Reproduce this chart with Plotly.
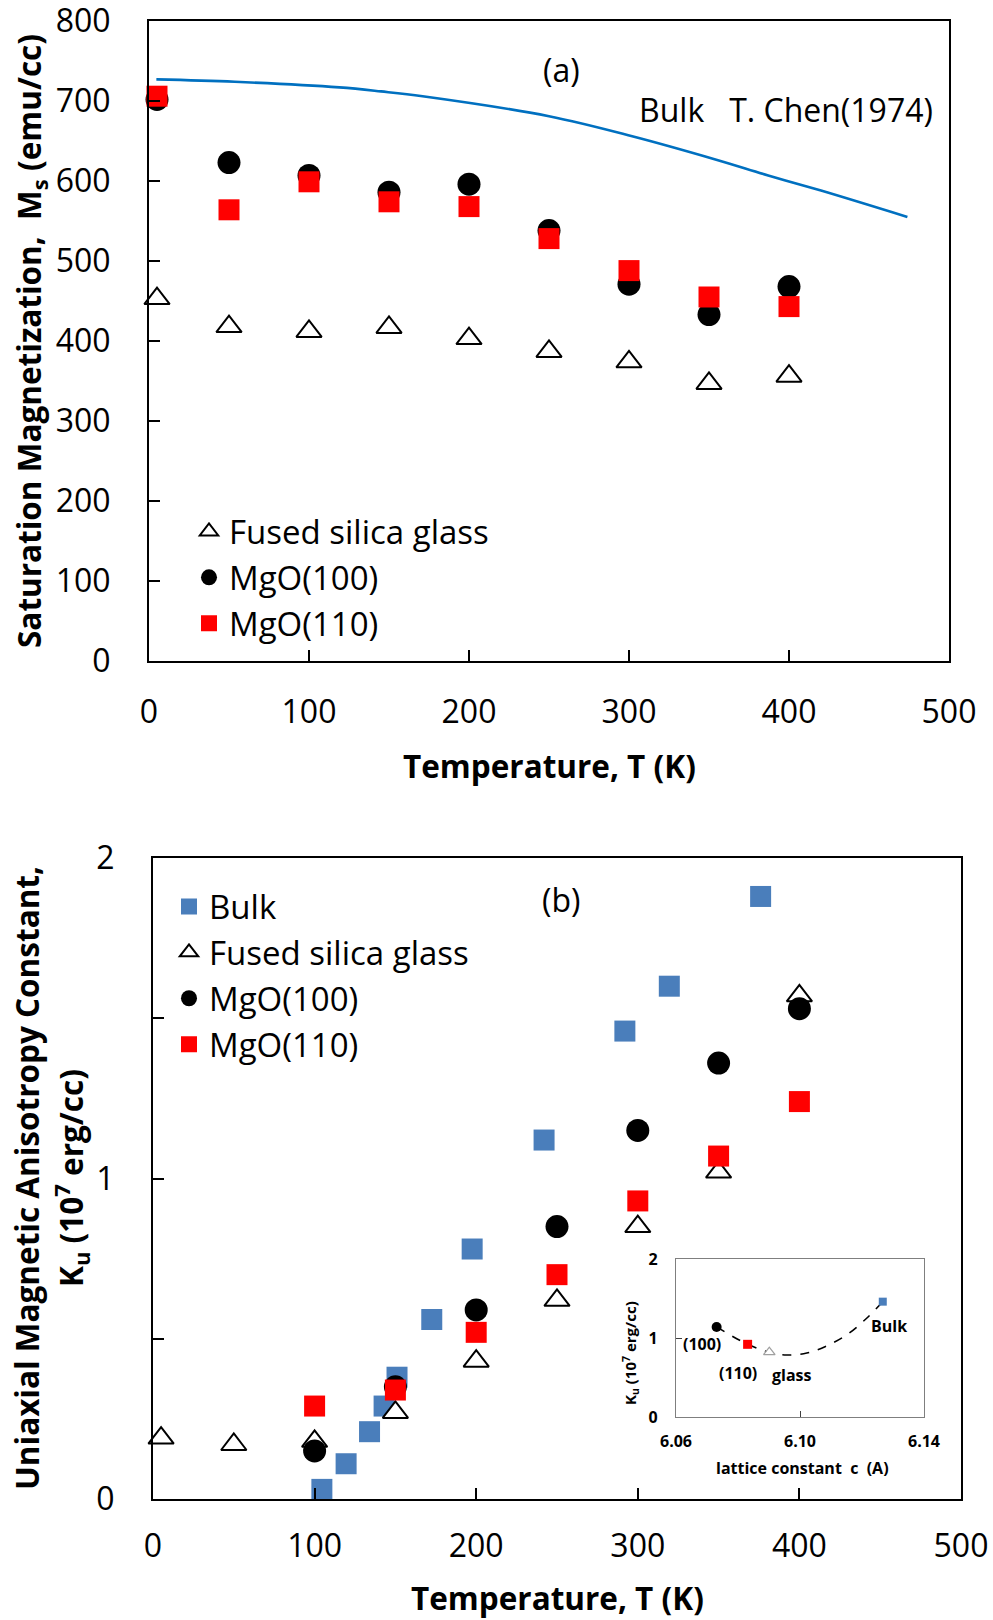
import plotly.graph_objects as go

W, H = 993, 1620

# ---------------- Panel (a): saturation magnetization ----------------
T_a = [5, 50, 100, 150, 200, 250, 300, 350, 400]
Ms_glass = [453, 418, 412, 417, 403, 387, 374, 347, 356]
Ms_mgo100 = [702, 623, 607, 586, 596, 538, 471, 433, 468]
Ms_mgo110 = [706, 564, 599, 574, 568, 528, 488, 455, 443]
T_bulk_line = [4.6, 53.6, 119, 145, 171, 250, 302, 354, 387, 420, 474]
Ms_bulk_line = [727, 724, 717, 712, 706, 681, 656, 627, 607, 588, 555]

# ---------------- Panel (b): uniaxial anisotropy ----------------
T_bulk = [104.5, 119.5, 134, 143, 151, 172.5, 197.5, 242, 292, 319.5, 376]
Ku_bulk = [0.03, 0.11, 0.21, 0.29, 0.38, 0.56, 0.78, 1.12, 1.46, 1.60, 1.88]
T_glass_b = [5, 50, 100, 150, 200, 250, 300, 350, 400]
Ku_glass = [0.19, 0.17, 0.18, 0.27, 0.43, 0.62, 0.85, 1.02, 1.57]
T_mgo_b = [100, 150, 200, 250, 300, 350, 400]
Ku_mgo100 = [0.15, 0.35, 0.59, 0.85, 1.15, 1.36, 1.53]
Ku_mgo110 = [0.29, 0.34, 0.52, 0.70, 0.93, 1.07, 1.24]

# ---------------- Inset: Ku vs lattice constant ----------------
c_labels = ["(100)", "(110)", "glass", "Bulk"]
c_vals = [6.0731, 6.0831, 6.0901, 6.1267]
Ku_c = [1.14, 0.92, 0.82, 1.46]
c_fit = [6.0731, 6.0831, 6.0901, 6.0957, 6.1022, 6.1086, 6.1151, 6.1215, 6.1267]
Ku_fit = [1.14, 0.92, 0.82, 0.785, 0.81, 0.90, 1.04, 1.25, 1.46]

RED = "#FF0000"
BLUE_LINE = "#0070C0"
BLUE_SQ = "#4A7EBB"
FONT = "Open Sans"


def px(x):
    return x / W


def py(y):
    return 1 - y / H


fig = go.Figure()

# Panel (a) traces
fig.add_trace(go.Scatter(x=T_bulk_line, y=Ms_bulk_line, mode="lines", line=dict(color=BLUE_LINE, width=2.6, shape="spline"),
                         showlegend=False, xaxis="x", yaxis="y"))
fig.add_trace(go.Scatter(x=T_a, y=Ms_glass, mode="markers", name="Fused silica glass",
                         marker=dict(symbol="triangle-up", size=22, color="white", line=dict(color="black", width=2)),
                         cliponaxis=False, xaxis="x", yaxis="y", legend="legend"))
fig.add_trace(go.Scatter(x=T_a, y=Ms_mgo100, mode="markers", name="MgO(100)",
                         marker=dict(symbol="circle", size=23, color="black"),
                         cliponaxis=False, xaxis="x", yaxis="y", legend="legend"))
fig.add_trace(go.Scatter(x=T_a, y=Ms_mgo110, mode="markers", name="MgO(110)",
                         marker=dict(symbol="square", size=21, color=RED),
                         cliponaxis=False, xaxis="x", yaxis="y", legend="legend"))

# Panel (b) traces
fig.add_trace(go.Scatter(x=T_bulk, y=Ku_bulk, mode="markers", name="Bulk",
                         marker=dict(symbol="square", size=21, color=BLUE_SQ),
                         cliponaxis=False, xaxis="x2", yaxis="y2", legend="legend2"))
fig.add_trace(go.Scatter(x=T_glass_b, y=Ku_glass, mode="markers", name="Fused silica glass",
                         marker=dict(symbol="triangle-up", size=22, color="white", line=dict(color="black", width=2)),
                         cliponaxis=False, xaxis="x2", yaxis="y2", legend="legend2"))
fig.add_trace(go.Scatter(x=T_mgo_b, y=Ku_mgo100, mode="markers", name="MgO(100)",
                         marker=dict(symbol="circle", size=23, color="black"),
                         cliponaxis=False, xaxis="x2", yaxis="y2", legend="legend2"))
fig.add_trace(go.Scatter(x=T_mgo_b, y=Ku_mgo110, mode="markers", name="MgO(110)",
                         marker=dict(symbol="square", size=21, color=RED),
                         cliponaxis=False, xaxis="x2", yaxis="y2", legend="legend2"))

# Inset traces
fig.add_trace(go.Scatter(x=c_fit, y=Ku_fit, mode="lines", line=dict(color="black", width=1.6, dash="dash", shape="spline"),
                         showlegend=False, xaxis="x3", yaxis="y3"))
inset_styles = [
    dict(symbol="circle", size=10, color="black"),
    dict(symbol="square", size=9, color=RED),
    dict(symbol="triangle-up", size=10, color="white", line=dict(color="#A0A0A0", width=1.3)),
    dict(symbol="square", size=8, color=BLUE_SQ),
]
for i in range(len(c_vals)):
    fig.add_trace(go.Scatter(x=[c_vals[i]], y=[Ku_c[i]], mode="markers", marker=inset_styles[i],
                             showlegend=False, cliponaxis=False, xaxis="x3", yaxis="y3"))

axis_common = dict(showgrid=False, zeroline=False, showline=True, linecolor="black", linewidth=2,
                   mirror=True, ticks="inside", ticklen=11, tickwidth=2, tickcolor="black", automargin=False,
                   ticklabeloverflow="allow",
                   tickfont=dict(family=FONT, size=32, color="black"))

layout_annotations = []


def ann(x, y, text, size=32, bold=False, angle=0, xanchor="center", yanchor="middle"):
    t = "<b>" + text + "</b>" if bold else text
    layout_annotations.append(dict(x=px(x), y=py(y), xref="paper", yref="paper", text=t, showarrow=False,
                                   textangle=angle, xanchor=xanchor, yanchor=yanchor,
                                   font=dict(family=FONT, size=size, color="black")))


# Panel labels & texts
ann(561, 69, "(a)")
ann(935, 110, "Bulk\u00a0\u00a0\u00a0T. Chen(1974)", xanchor="right")
ann(561, 899, "(b)")
# Axis titles
ann(549, 766, "Temperature, T (K)", size=31.5, bold=True)
ann(31, 341, "Saturation Magnetization,\u00a0\u00a0M<sub>s</sub> (emu/cc)", size=31.5, bold=True, angle=-90)
ann(557, 1597, "Temperature, T (K)", size=31.5, bold=True)
ann(26, 1178, "Uniaxial Magnetic Anisotropy Constant,", size=31.5, bold=True, angle=-90)
ann(71, 1178, "K<sub>u</sub> (10<sup>7</sup> erg/cc)", size=31.5, bold=True, angle=-90)
# Inset texts
ann(702, 1344, "(100)", size=16, bold=True)
ann(738, 1373, "(110)", size=16, bold=True)
ann(792, 1375, "glass", size=16, bold=True)
ann(889, 1326, "Bulk", size=16, bold=True)
ann(802, 1468, "lattice constant\u00a0\u00a0c\u00a0\u00a0(A)", size=16, bold=True)
ann(630, 1353, "K<sub>u</sub> (10<sup>7</sup> erg/cc)", size=15, bold=True, angle=-90)

inset_axis = dict(showgrid=False, zeroline=False, showline=True, linecolor="#7F7F7F", linewidth=1.3, mirror=True,
                  ticks="inside", ticklen=6, tickwidth=1.3, tickcolor="#404040", automargin=False,
                  ticklabeloverflow="allow",
                  tickfont=dict(family=FONT, size=16, color="black"))

fig.update_layout(
    width=W, height=H,
    margin=dict(l=0, r=0, t=0, b=0, pad=0, autoexpand=False),
    paper_bgcolor="white", plot_bgcolor="white",
    font=dict(family=FONT, color="black"),
    showlegend=True,
    xaxis=dict(axis_common, domain=[px(149), px(949)], range=[0, 500], dtick=100, anchor="y", ticklabelstandoff=22),
    yaxis=dict(axis_common, domain=[py(661), py(21)], range=[0, 800], dtick=100, anchor="x", ticklabelstandoff=30),
    xaxis2=dict(axis_common, domain=[px(153), px(961)], range=[0, 500], dtick=100, anchor="y2", ticklabelstandoff=18),
    yaxis2=dict(axis_common, domain=[py(1499), py(858)], range=[0, 2], anchor="x2",
                tickvals=[0, 0.5, 1, 1.5, 2], ticktext=["0", "", "1", "", "2"], ticklabelstandoff=30),
    xaxis3=dict(inset_axis, tickvals=[6.06, 6.10, 6.14],
                ticktext=["<b>6.06</b>", "<b>6.10</b>", "<b>6.14</b>"],
                domain=[px(676), px(924)], range=[6.06, 6.14], anchor="y3", ticklabelstandoff=10),
    yaxis3=dict(inset_axis, tickvals=[0, 1, 2],
                ticktext=["<b>0</b>", "<b>1</b>", "<b>2</b>"],
                domain=[py(1417), py(1259)], range=[0, 2], anchor="x3", ticklabelstandoff=14),
    legend=dict(x=px(189), y=py(503.5), xanchor="left", yanchor="top", bgcolor="rgba(0,0,0,0)",
                font=dict(family=FONT, size=33, color="black"), itemsizing="trace", borderwidth=0),
    legend2=dict(x=px(169), y=py(878.5), xanchor="left", yanchor="top", bgcolor="rgba(0,0,0,0)",
                 font=dict(family=FONT, size=33, color="black"), itemsizing="trace", borderwidth=0),
    annotations=layout_annotations,
)

fig.write_html("out.html")
